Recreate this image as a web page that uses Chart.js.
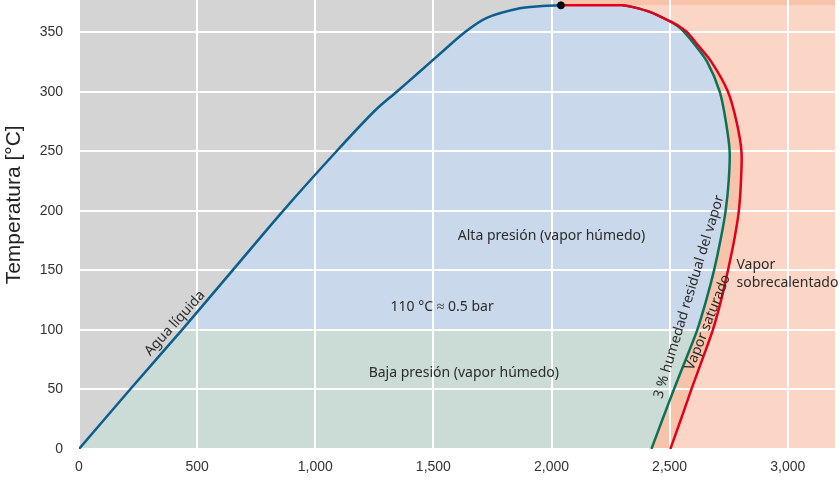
<!DOCTYPE html>
<html>
<head>
<meta charset="utf-8">
<script src="https://cdn.jsdelivr.net/npm/chart.js@4.4.1/dist/chart.umd.min.js"></script>
<style>
  html, body { margin: 0; padding: 0; background: #fff; overflow: hidden; }
  #wrap { width: 840px; height: 480px; }
</style>
</head>
<body>
<div id="wrap"><canvas id="chart"></canvas></div>
<script>
// enthalpy [kJ/kg] vs temperature [°C]
const liquidH = [0, 216, 436, 650, 864, 1090, 1252, 1345, 1443, 1540, 1633, 1726, 1866, 1960, 2040];
const liquidT = [0, 50, 100, 150, 200, 250, 284, 300, 317, 334, 350, 362, 370, 372, 372.5];

// 3 % residual moisture line
const wet3H = [2423, 2470, 2518, 2568, 2617, 2655, 2688, 2715, 2737, 2750, 2754, 2738, 2712, 2659, 2604, 2562, 2535, 2492, 2416, 2345, 2302];
const wet3T = [0, 25, 50, 75, 100, 125, 150, 175, 200, 225, 250, 275, 300, 325, 340, 350, 355, 360, 367, 371, 372.5];

// saturated steam line
const satH = [2503, 2548, 2592, 2638, 2683, 2718, 2747, 2773, 2793, 2802, 2804, 2783, 2747, 2677, 2616, 2574, 2540, 2492, 2416, 2345, 2302, 2040];
const satT = [0, 25, 50, 75, 100, 125, 150, 175, 200, 225, 250, 275, 300, 325, 340, 350, 355, 360, 367, 371, 372.5, 372.5];

const critH = 2040, critT = 372.5;
const splitT = 100;          // 110 °C ≈ 0.5 bar boundary (high / low pressure)
const hMax = 3200, tMax = 377;
const hTicks = [0, 500, 1000, 1500, 2000, 2500, 3000];
const tTicks = [0, 50, 100, 150, 200, 250, 300, 350];
const yTitle = 'Temperatura [°C]';

const pts = (hs, ts) => hs.map((h, i) => ({ x: h, y: ts[i] }));

const liquid = pts(liquidH, liquidT);
const wet3 = pts(wet3H, wet3T);
const sat = pts(satH, satT);

// shaded regions, built from the curves above
const highRegion = liquid.filter(p => p.y >= splitT).concat(wet3.filter(p => p.y >= splitT).reverse());
const lowRegion = liquid.filter(p => p.y <= splitT).concat(wet3.filter(p => p.y <= splitT).reverse());
const wetSteamRegion = wet3.concat([
  { x: critH, y: critT }, { x: critH, y: tMax }, { x: hMax, y: tMax }, { x: hMax, y: 0 }
]);
const superRegion = sat.slice(0, -1).concat([{ x: hMax, y: critT }, { x: hMax, y: 0 }]);
const plotRegion = [{ x: 0, y: 0 }, { x: 0, y: tMax }, { x: hMax, y: tMax }, { x: hMax, y: 0 }];

const labels = [
  { text: ['Alta presión (vapor húmedo)'], h: 2000, t: 178.5, rot: 0, align: 'center' },
  { text: ['110 °C ≈ 0.5 bar'], h: 1537, t: 119.4, rot: 0, align: 'center' },
  { text: ['Baja presión (vapor húmedo)'], h: 1629, t: 63.5, rot: 0, align: 'center' },
  { text: ['Agua líquida'], h: 406, t: 105.5, rot: -48, align: 'center' },
  { text: ['3 % humedad residual del vapor'], h: 2582, t: 127.8, rot: -73, align: 'center' },
  { text: ['Vapor saturado'], h: 2662, t: 106.2, rot: -68.5, align: 'center' },
  { text: ['Vapor', 'sobrecalentado'], h: 2783, t: 154.4, rot: 0, align: 'left' }
];

const region = (data, color) => ({
  data, showLine: true, fill: 'shape', backgroundColor: color,
  borderColor: 'rgba(0,0,0,0)', borderWidth: 0, pointRadius: 0, tension: 0
});
const curve = (data, color) => ({
  data, showLine: true, fill: false, borderColor: color, borderWidth: 2.5,
  pointRadius: 0, tension: 0.3
});

const annotate = {
  id: 'annotate',
  afterDatasetsDraw(chart) {
    const { ctx, scales: { x, y } } = chart;
    ctx.save();
    ctx.fillStyle = '#2b2b2b';
    ctx.font = '14px "Noto Sans"';
    ctx.textBaseline = 'middle';
    labels.forEach(l => {
      ctx.save();
      ctx.translate(x.getPixelForValue(l.h), y.getPixelForValue(l.t));
      ctx.rotate(l.rot * Math.PI / 180);
      ctx.textAlign = l.align;
      l.text.forEach((line, i) => ctx.fillText(line, 0, i * 18));
      ctx.restore();
    });
    // axis title, sits a little above the middle of the axis in the original
    ctx.translate(14, y.getPixelForValue(205));
    ctx.rotate(-Math.PI / 2);
    ctx.fillStyle = '#222';
    ctx.font = '21px "Liberation Sans"';
    ctx.textAlign = 'center';
    ctx.fillText(yTitle, 0, 0);
    ctx.restore();
  }
};

new Chart(document.getElementById('chart'), {
  type: 'scatter',
  data: {
    datasets: [
      { data: [{ x: critH, y: critT }], pointRadius: 3.5, backgroundColor: '#000', borderColor: '#000' },
      curve(sat, '#e2001a'),
      curve(wet3, '#0b7256'),
      curve(liquid, '#0b5f8f'),
      region(highRegion, '#c9d8ea'),
      region(lowRegion, '#cadcd5'),
      region(superRegion, '#fbd6c6'),
      region(wetSteamRegion, '#f8c3ab'),
      region(plotRegion, '#d4d4d4')
    ]
  },
  options: {
    responsive: true,
    maintainAspectRatio: false,
    animation: false,
    events: [],
    layout: { autoPadding: false, padding: { top: 0, right: 5, bottom: 0, left: 0 } },
    plugins: {
      legend: { display: false },
      tooltip: { enabled: false },
      filler: { drawTime: 'beforeDraw' }
    },
    scales: {
      x: {
        type: 'linear', min: 0, max: hMax,
        afterBuildTicks: s => { s.ticks = hTicks.map(v => ({ value: v })); },
        afterFit: s => { s.height = 31; s.paddingLeft = 0; s.paddingRight = 0; },
        grid: { color: '#ffffff', lineWidth: 2, drawTicks: false },
        border: { display: false },
        ticks: {
          padding: 10, color: '#333',
          font: { family: 'Liberation Sans', size: 14 },
          callback: v => v.toLocaleString('en-US')
        }
      },
      y: {
        type: 'linear', min: 0, max: tMax,
        afterBuildTicks: s => { s.ticks = tTicks.map(v => ({ value: v })); },
        afterFit: s => { s.width = 79; s.paddingTop = 0; s.paddingBottom = 0; },
        grid: { color: '#ffffff', lineWidth: 2, drawTicks: false },
        border: { display: false },
        ticks: {
          padding: 16, color: '#333',
          font: { family: 'Liberation Sans', size: 14 }
        }
      }
    }
  },
  plugins: [annotate]
});
</script>
</body>
</html>
